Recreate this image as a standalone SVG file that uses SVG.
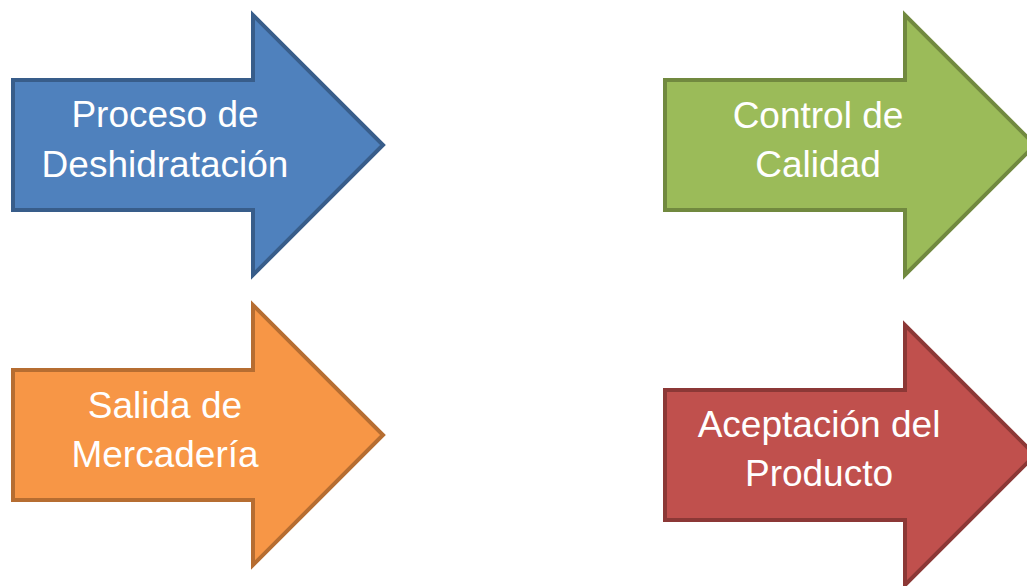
<svg xmlns="http://www.w3.org/2000/svg" width="1027" height="586" viewBox="0 0 1027 586">
<defs>
<style>
.arrow{stroke-width:4;stroke-linejoin:miter}
.blue{fill:#4F81BD;stroke:#385D8A}
.green{fill:#9BBB59;stroke:#71893F}
.orange{fill:#F79646;stroke:#B66D31}
.red{fill:#C0504D;stroke:#8C3836}
.lbl{font-family:"Liberation Sans",Arial,sans-serif;font-size:37px;fill:#FFFFFF;text-anchor:middle}
</style>
<polygon id="arrowShape" points="13,80 253,80 253,15 383,145 253,275 253,210 13,210"/>
</defs>
<rect width="1027" height="586" fill="#FFFFFF"/>
<g id="node-proceso">
<use href="#arrowShape" class="arrow blue"/>
<text class="lbl" x="165" y="127">Proceso de</text>
<text class="lbl" x="165" y="177">Deshidratación</text>
</g>
<g id="node-control" transform="translate(652,0)">
<use href="#arrowShape" class="arrow green"/>
<text class="lbl" x="166" y="128">Control de</text>
<text class="lbl" x="166" y="177">Calidad</text>
</g>
<g id="node-salida" transform="translate(0,290)">
<use href="#arrowShape" class="arrow orange"/>
<text class="lbl" x="165" y="128">Salida de</text>
<text class="lbl" x="165" y="177">Mercadería</text>
</g>
<g id="node-aceptacion" transform="translate(652,310)">
<use href="#arrowShape" class="arrow red"/>
<text class="lbl" x="167" y="127">Aceptación del</text>
<text class="lbl" x="167" y="176">Producto</text>
</g>
<g id="connectors"></g>
</svg>
